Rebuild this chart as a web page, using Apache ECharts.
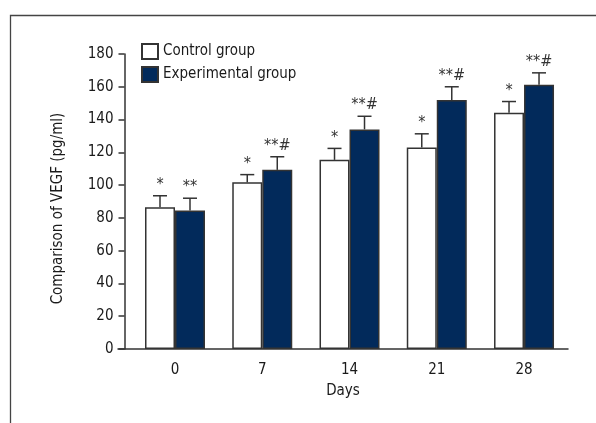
<!DOCTYPE html>
<html><head><meta charset="utf-8">
<script src="https://cdn.jsdelivr.net/npm/echarts@6/dist/echarts.min.js"></script>
<style>html,body{margin:0;padding:0;background:#fff}#c{width:596px;height:423px}</style>
</head><body><div id="c"></div>
<script>
var days = ['0', '7', '14', '21', '28'];
var control = [86.5, 101.7, 115.4, 123, 144.1];
var controlErr = [7, 4.7, 7, 8.3, 6.9];
var experimental = [84.5, 109.3, 134, 152, 161.2];
var experimentalErr = [7.5, 8, 8, 8, 7.3];
var controlMarks = ['*', '*', '*', '*', '*'];
var experimentalMarks = ['**', '**#', '**#', '**#', '**#'];
var yTicks = [0, 20, 40, 60, 80, 100, 120, 140, 160, 180];

var FONT = '"Liberation Sans Narrow", "DejaVu Sans Condensed", sans-serif';
var FS = 15;
var BAR_W = 30;
var INK = '#333';
var TXT = '#1a1a1a';

var chart = echarts.init(document.getElementById('c'), null, {renderer: 'canvas'});

function errData(vals, errs, marks) {
  return vals.map(function (v, i) { return [i, v, v + errs[i], marks[i]]; });
}
function errRender(shift) {
  return function (params, api) {
    var x = api.value(0);
    var top = api.coord([x, api.value(2)]);
    var base = api.coord([x, api.value(1)]);
    var cx = top[0] + shift;
    var half = 7;
    return {
      type: 'group',
      children: [
        {type: 'line', shape: {x1: cx, y1: base[1], x2: cx, y2: top[1]}, style: {stroke: INK, lineWidth: 1.5}},
        {type: 'line', shape: {x1: cx - half, y1: top[1], x2: cx + half, y2: top[1]}, style: {stroke: INK, lineWidth: 1.5}},
        {type: 'text', style: {text: api.value(3), x: cx, y: top[1] - 3, textAlign: 'center', textVerticalAlign: 'bottom', fill: INK, font: '16px ' + FONT}}
      ]
    };
  };
}

var option = {
  animation: false,
  backgroundColor: '#fff',
  textStyle: {fontFamily: FONT},
  graphic: [{
    type: 'rect', left: 8, top: 13, silent: true,
    shape: {width: 700, height: 500},
    style: {fill: 'none', stroke: '#444', lineWidth: 1.3}
  }],
  legend: {
    orient: 'vertical', left: 136, top: 38,
    itemWidth: 16, itemHeight: 15, itemGap: 6,
    icon: 'rect',
    textStyle: {fontFamily: FONT, fontSize: FS, color: TXT},
    data: ['Control group', 'Experimental group']
  },
  grid: {left: 118, right: 28, top: 54, bottom: 74},
  xAxis: {
    type: 'value', min: -0.6533, max: 4.504,
    name: 'Days', nameLocation: 'middle', nameGap: 35,
    nameTextStyle: {fontFamily: FONT, fontSize: FS, color: TXT},
    axisLine: {show: true, onZero: false, lineStyle: {color: INK, width: 1.5}},
    axisTick: {show: false},
    splitLine: {show: false},
    axisLabel: {
      customValues: [0, 1, 2, 3, 4],
      formatter: function (v) { return days[Math.round(v)]; },
      margin: 14, fontFamily: FONT, fontSize: FS, color: TXT
    }
  },
  yAxis: {
    type: 'value', min: 0, max: 180, interval: 20, offset: -6.5,
    name: 'Comparison of VEGF (pg/ml)', nameLocation: 'middle', nameGap: 59,
    nameTextStyle: {fontFamily: FONT, fontSize: FS, color: TXT, padding: [0, 14, 0, 0]},
    axisLine: {show: true, onZero: false, lineStyle: {color: INK, width: 1.5}},
    axisTick: {show: true, length: 6, lineStyle: {color: INK, width: 1.5}},
    splitLine: {show: false},
    axisLabel: {margin: 11, fontFamily: FONT, fontSize: FS, color: TXT,
      formatter: function (v) { return yTicks.indexOf(v) >= 0 ? String(v) : ''; }}
  },
  series: [
    {
      name: 'Control group', type: 'bar', barWidth: BAR_W, barGap: '0%',
      data: control.map(function (v, i) { return [i, v]; }),
      itemStyle: {color: '#fff', borderColor: INK, borderWidth: 1.5}, z: 2
    },
    {
      name: 'Experimental group', type: 'bar', barWidth: BAR_W, barGap: '0%',
      data: experimental.map(function (v, i) { return [i, v]; }),
      itemStyle: {color: '#022a5b', borderColor: INK, borderWidth: 1.5}, z: 2
    },
    {
      type: 'custom', renderItem: errRender(-BAR_W / 2),
      data: errData(control, controlErr, controlMarks), z: 3, silent: true
    },
    {
      type: 'custom', renderItem: errRender(BAR_W / 2),
      data: errData(experimental, experimentalErr, experimentalMarks), z: 3, silent: true
    }
  ]
};
chart.setOption(option);
</script></body></html>
